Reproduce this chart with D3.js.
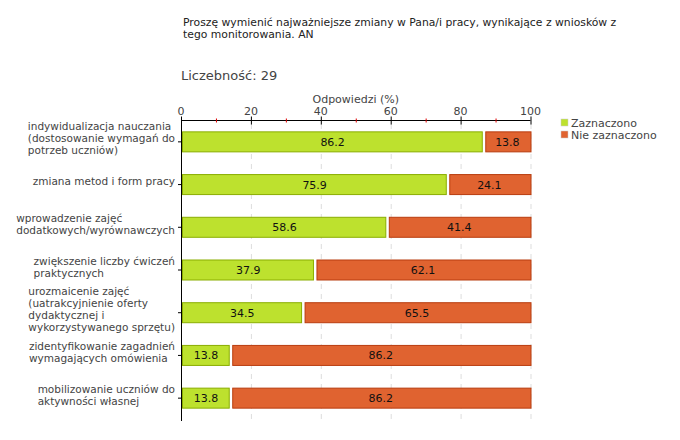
<!DOCTYPE html>
<html><head><meta charset="utf-8">
<script src="https://cdn.jsdelivr.net/npm/d3@7"></script>
<style>body{margin:0;background:#fff}svg{display:block;font-family:"DejaVu Sans",sans-serif}</style>
</head><body><svg id="c" width="680" height="440"></svg>
<script>
const categories = [
  ["indywidualizacja nauczania","(dostosowanie wymagań do","potrzeb uczniów)"],
  ["zmiana metod i form pracy"],
  ["wprowadzenie zajęć","dodatkowych/wyrównawczych"],
  ["zwiększenie liczby ćwiczeń","praktycznych"],
  ["urozmaicenie zajęć","(uatrakcyjnienie oferty","dydaktycznej i","wykorzystywanego sprzętu)"],
  ["zidentyfikowanie zagadnień","wymagających omówienia"],
  ["mobilizowanie uczniów do","aktywności własnej"]
];
const zaznaczono = [86.2, 75.9, 58.6, 37.9, 34.5, 13.8, 13.8];
const nieZaznaczono = [13.8, 24.1, 41.4, 62.1, 65.5, 86.2, 86.2];
const seriesNames = ["Zaznaczono", "Nie zaznaczono"];
const majorTicks = [0, 20, 40, 60, 80, 100];
const minorTicks = [10, 30, 50, 70, 90];
const titleLines = ["Proszę wymienić najważniejsze zmiany w Pana/i pracy, wynikające z wniosków z","tego monitorowania. AN"];
const countLabel = "Liczebność: 29";
const axisTitle = "Odpowiedzi (%)";

const fills = ["#bde12e", "#e06330"];
const strokes = ["#8aad00", "#b83c0e"];

const svg = d3.select("#c");
const x = d3.scaleLinear().domain([0, 100]).range([181, 530.5]);
const y = d3.scaleBand().domain(d3.range(categories.length)).range([120, 419]);
const axisY = 120;

// title
svg.append("text").attr("x", 183).attr("y", 26).attr("font-size", 10.8).attr("fill", "#222")
  .selectAll("tspan").data(titleLines).join("tspan").attr("x", 183).attr("dy", (d, i) => i ? 12 : 0).text(d => d);
svg.append("text").attr("x", 181).attr("y", 80).attr("font-size", 13).attr("fill", "#444").text(countLabel);
svg.append("text").attr("x", (x(0) + x(100)) / 2).attr("y", 103).attr("text-anchor", "middle")
  .attr("font-size", 11).attr("fill", "#444").text(axisTitle);

// grid
svg.append("g").selectAll("line").data(majorTicks.filter(d => d > 0)).join("line")
  .attr("x1", d => x(d) + 0.5).attr("x2", d => x(d) + 0.5).attr("y1", axisY + 4).attr("y2", 421)
  .attr("stroke", "#dddddd").attr("stroke-dasharray", "5,5");

// x axis
const gx = svg.append("g").attr("transform", `translate(0,${axisY + 0.5})`);
gx.append("line").attr("x1", x(0)).attr("x2", x(100)).attr("stroke", "#000");
gx.selectAll(".mj").data(majorTicks).join("line").attr("class", "mj")
  .attr("x1", d => x(d) + 0.5).attr("x2", d => x(d) + 0.5).attr("y1", -4).attr("y2", 4).attr("stroke", "#000");
gx.selectAll(".mn").data(minorTicks).join("line").attr("class", "mn")
  .attr("x1", d => x(d) + 0.5).attr("x2", d => x(d) + 0.5).attr("y1", -2).attr("y2", 2).attr("stroke", "#e00000");
gx.selectAll("text").data(majorTicks).join("text")
  .attr("x", d => x(d)).attr("y", -6).attr("text-anchor", "middle").attr("font-size", 11).attr("fill", "#444").text(d => d);

// y axis
svg.append("line").attr("x1", x(0) + 0.5).attr("x2", x(0) + 0.5).attr("y1", axisY).attr("y2", 421).attr("stroke", "#000");
svg.append("g").selectAll("line").data(d3.range(categories.length)).join("line")
  .attr("x1", x(0) - 3).attr("x2", x(0)).attr("y1", i => y(i) + y.bandwidth() / 2 + 0.5).attr("y2", i => y(i) + y.bandwidth() / 2 + 0.5)
  .attr("stroke", "#000");

// category labels
const lh = 12;
svg.append("g").selectAll("text").data(categories).join("text")
  .attr("font-size", 10.5).attr("fill", "#444").attr("text-anchor", "start")
  .each(function (lines, i) {
    const cy = y(i) + y.bandwidth() / 2;
    const t = d3.select(this);
    const y0 = cy - (lines.length - 1) * lh / 2 + 1;
    lines.forEach((l, k) => t.append("tspan").attr("y", y0 + k * lh).text(l));
    const widths = [];
    t.selectAll("tspan").each(function () { widths.push(this.getComputedTextLength()); });
    const maxW = d3.max(widths);
    t.selectAll("tspan").attr("x", 175 - maxW);
  });

// bars
const rows = zaznaczono.map((v, i) => [
  { s: 0, e: v, v: v, k: 0 },
  { s: v, e: v + nieZaznaczono[i], v: nieZaznaczono[i], k: 1 }
]);
const bh = 20;
rows.forEach((segs, i) => {
  const cy = y(i) + y.bandwidth() / 2;
  const g = svg.append("g");
  g.selectAll("rect").data(segs).join("rect")
    .attr("x", d => d.k === 0 ? x(d.s) + 1.5 : x(d.s) + 3.5)
    .attr("y", cy - bh / 2 + 0.5)
    .attr("width", d => d.k === 0 ? x(d.e) - x(d.s) - 1.5 : x(d.e) - x(d.s) - 3)
    .attr("height", bh)
    .attr("fill", d => fills[d.k]).attr("stroke", d => strokes[d.k]).attr("stroke-width", 1);
  g.selectAll("text").data(segs).join("text")
    .attr("x", d => (x(d.s) + x(d.e)) / 2 + 1).attr("y", cy + 4.5).attr("text-anchor", "middle")
    .attr("font-size", 11).attr("fill", "#111").text(d => d.v.toFixed(1));
});

// legend
const lg = svg.append("g");
seriesNames.forEach((n, i) => {
  lg.append("rect").attr("x", 561).attr("y", 119 + i * 12).attr("width", 7).attr("height", 7)
    .attr("fill", fills[i]).attr("stroke", "#ccc").attr("stroke-width", 0.5);
  lg.append("text").attr("x", 571).attr("y", 127 + i * 12).attr("font-size", 11).attr("fill", "#444").text(n);
});
</script></body></html>
